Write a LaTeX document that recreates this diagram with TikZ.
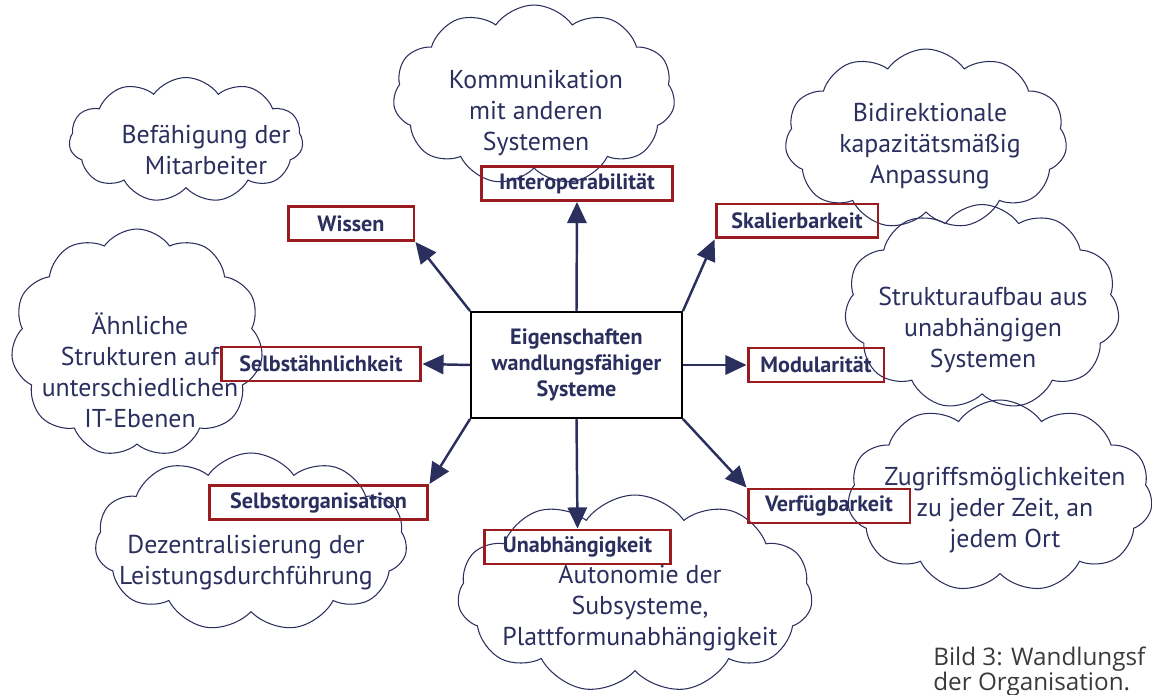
\documentclass[tikz,border=0pt]{standalone}
\usepackage{fontspec}
\setmainfont{PT Sans}
\newfontfamily\capfont{Open Sans}
\usetikzlibrary{arrows.meta,shapes.symbols}

\definecolor{navy}{HTML}{2B2F5E}
\definecolor{boxred}{HTML}{9B1C20}
\definecolor{capgray}{HTML}{3A3A3A}

\begin{document}
\begin{tikzpicture}[x=0.02cm,y=-0.02cm,>={Triangle[length=12pt,width=11pt]},
  cloud node/.style={cloud,draw=navy,line width=0.6pt,cloud puffs=11,
    cloud puff arc=110,cloud ignores aspect,inner sep=0pt},
  cloud text/.style={text=navy,font=\fontsize{14.7}{17.6}\selectfont,align=center},
  tag node/.style={rectangle,draw=boxred,line width=1.7pt,text=navy,
    font=\bfseries\fontsize{12.6}{14}\selectfont,inner sep=0pt,minimum height=0.68cm},
  main node/.style={rectangle,draw=black,line width=1.1pt,text=navy,
    font=\bfseries\fontsize{12.6}{14.7}\selectfont,align=center,
    minimum width=4.22cm,minimum height=2.12cm}]

  \useasboundingbox (0,0) rectangle (1152,695);

  % clouds
  \node[cloud node,minimum width=5.64cm,minimum height=3.6cm] (c-komm) at (534,95) {};
  \node[cloud node,minimum width=4.68cm,minimum height=2.5cm] (c-bef)  at (186,140) {};
  \node[cloud node,minimum width=5.64cm,minimum height=3.6cm] (c-bidi) at (926,139) {};
  \node[cloud node,minimum width=5.5cm,minimum height=4.1cm]  (c-strk) at (982,307) {};
  \node[cloud node,minimum width=5.04cm,minimum height=4.56cm] (c-aehn) at (137,343) {};
  \node[cloud node,minimum width=6.24cm,minimum height=3.56cm] (c-dez) at (251,542) {};
  \node[cloud node,minimum width=7.1cm,minimum height=3.96cm] (c-auto) at (635,594) {};
  \node[cloud node,minimum width=6.1cm,minimum height=3.84cm] (c-zug)  at (1000,496) {};

  \node[cloud text] (t-komm) at (536,113) {Kommunikation\\mit anderen\\Systemen};
  \node[cloud text] (t-bef)  at (206,150) {Befähigung der\\Mitarbeiter};
  \node[cloud text] (t-bidi) at (930,146) {Bidirektionale\\kapazitätsmäßig\\Anpassung};
  \node[cloud text] (t-strk) at (983,330) {Strukturaufbau aus\\unabhängigen\\Systemen};
  \node[cloud text] (t-aehn) at (140,370) {Ähnliche\\Strukturen auf\\unterschiedlichen\\IT-Ebenen};
  \node[cloud text] (t-dez)  at (246,563) {Dezentralisierung der\\Leistungsdurchführung};
  \node[cloud text] (t-auto) at (640,608) {Autonomie der\\Subsysteme,\\Plattformunabhängigkeit};
  \node[cloud text] (t-zug)  at (1005,510) {Zugriffsmöglichkeiten\\zu jeder Zeit, an\\jedem Ort};

  % center and properties
  \node[main node] (eig) at (576.5,365) {Eigenschaften\\wandlungsfähiger\\Systeme};

  \node[tag node,minimum width=3.84cm] (interop) at (577,183.5) {Interoperabilität};
  \node[tag node,minimum width=2.52cm] (wissen)  at (351,223.5) {Wissen};
  \node[tag node,minimum width=3.24cm] (skal)    at (797,221)   {Skalierbarkeit};
  \node[tag node,minimum width=4cm]    (selbsta) at (321,364)   {Selbstähnlichkeit};
  \node[tag node,minimum width=2.72cm] (modul)   at (816,365)   {Modularität};
  \node[tag node,minimum width=4.38cm] (selbsto) at (318.5,502.5) {Selbstorganisation};
  \node[tag node,minimum width=3.74cm] (unab)    at (577.5,547) {Unabhängigkeit};
  \node[tag node,minimum width=3.24cm] (verf)    at (829,506)   {Verfügbarkeit};

  \path[->,color=navy,line width=1.4pt]
    (eig.north)      edge (interop.south)
    (eig.north west) edge (wissen.south east)
    (eig.north east) edge (skal.south west)
    (eig.west)       edge (selbsta.east)
    (eig.east)       edge (modul.west)
    (eig.south west) edge (selbsto.north east)
    (eig.south)      edge (unab.north)
    (eig.south east) edge (verf.north west);

  % caption
  \node[anchor=base west,inner sep=0pt,text=capgray,font=\capfont\fontsize{13.8}{15}\selectfont]
    (cap1) at (933,665) {Bild 3: Wandlungsf};
  \node[anchor=base west,inner sep=0pt,text=capgray,font=\capfont\fontsize{13.8}{15}\selectfont]
    (cap2) at (933,690) {der Organisation.};

\end{tikzpicture}
\end{document}
